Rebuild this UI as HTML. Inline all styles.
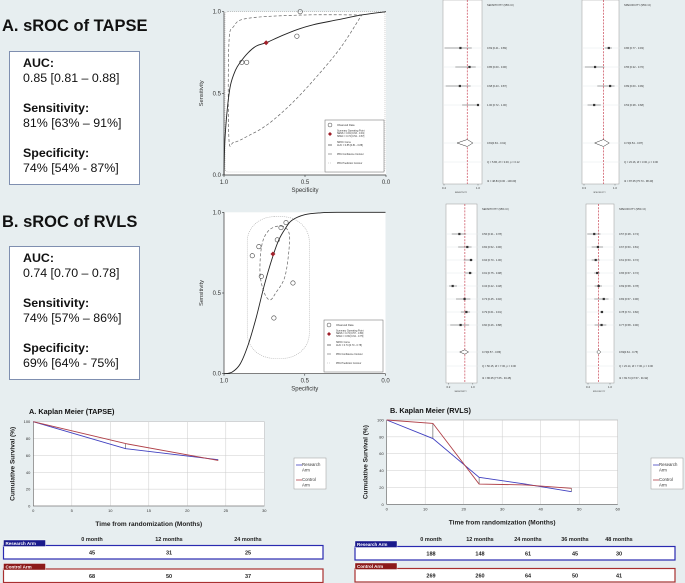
<!DOCTYPE html>
<html><head><meta charset="utf-8"><style>
html,body{margin:0;padding:0;background:#e7eef0;}
svg{display:block;font-family:"Liberation Sans",sans-serif;}
</style></head><body>
<svg id="fig" width="685" height="583" viewBox="0 0 685 583" xmlns="http://www.w3.org/2000/svg">
<rect x="0" y="0" width="685" height="583" fill="#e7eef0"/>
<text x="2" y="31" font-size="16.5" font-weight="bold" fill="#111">A. sROC of TAPSE</text>
<rect x="9.5" y="51.5" width="130" height="133" fill="#fff" stroke="#7f8fb0"/>
<g font-size="12.4" fill="#111">
<text x="23" y="67" font-weight="bold">AUC:</text><text x="23" y="82">0.85 [0.81 – 0.88]</text>
<text x="23" y="112" font-weight="bold">Sensitivity:</text><text x="23" y="127">81% [63% – 91%]</text>
<text x="23" y="157" font-weight="bold">Specificity:</text><text x="23" y="172">74% [54% - 87%]</text></g>
<text x="2" y="227" font-size="16.5" font-weight="bold" fill="#111">B. sROC of RVLS</text>
<rect x="9.5" y="246.5" width="130" height="133" fill="#fff" stroke="#7f8fb0"/>
<g font-size="12.4" fill="#111">
<text x="23" y="262" font-weight="bold">AUC:</text><text x="23" y="277">0.74 [0.70 – 0.78]</text>
<text x="23" y="307" font-weight="bold">Sensitivity:</text><text x="23" y="322">74% [57% – 86%]</text>
<text x="23" y="352" font-weight="bold">Specificity:</text><text x="23" y="367">69% [64% - 75%]</text></g>
<g id="dyn"></g>
</svg>
<script>
// ---------- sROC data ----------
const tapseObsSpec=[0.89,0.86,0.55,0.53];
const tapseObsSens=[0.69,0.69,0.85,1.00];
const tapseSummary=[0.74,0.81];
const tapseCurveSpec=[1,0.995,0.98,0.96,0.93,0.9,0.85,0.8,0.74,0.65,0.55,0.45,0.3,0.15,0];
const tapseCurveSens=[0,0.2,0.4,0.55,0.64,0.69,0.75,0.79,0.81,0.85,0.89,0.92,0.95,0.98,1];
const tapseConfSpec=[0.15,0.5,0.85,0.94,0.97,0.97,0.94,0.85,0.73,0.58,0.43,0.28,0.15];
const tapseConfSens=[0.98,0.98,0.96,0.91,0.8,0.23,0.2,0.24,0.31,0.44,0.6,0.78,0.98];
const rvlsObsSpec=[0.825,0.784,0.769,0.691,0.670,0.647,0.616,0.573];
const rvlsObsSens=[0.731,0.787,0.603,0.345,0.829,0.905,0.936,0.562];
const rvlsSummary=[0.697,0.742];
const rvlsCurveSpec=[1,0.95,0.9,0.85,0.8,0.75,0.7,0.66,0.62,0.58,0.5,0.4,0.3,0];
const rvlsCurveSens=[0,0.01,0.06,0.18,0.35,0.55,0.72,0.83,0.9,0.95,0.985,0.997,1,1];
const rvlsConfSpec=[0.647,0.6,0.596,0.623,0.68,0.715,0.75,0.777,0.765,0.72];
const rvlsConfSens=[0.915,0.88,0.787,0.601,0.5,0.457,0.5,0.622,0.8,0.89];
const rvlsPredSpec=[0.856,0.472];
const rvlsPredSens=[0.973,0.095];
// ---------- forest data ----------
const tapseSensEst=[0.69,0.85,0.68,1.00], tapseSensLo=[0.41,0.60,0.43,0.72], tapseSensHi=[0.89,0.96,0.87,1.00];
const tapseSensLabels=["0.69 [0.41 - 0.89]","0.85 [0.60 - 0.96]","0.68 [0.43 - 0.87]","1.00 [0.72 - 1.00]"];
const tapseSensPool=[0.81,0.63,0.91];
const tapseSpecEst=[0.86,0.55,0.89,0.53], tapseSpecLo=[0.77,0.32,0.60,0.38], tapseSpecHi=[0.93,0.76,0.99,0.68];
const tapseSpecLabels=["0.86 [0.77 - 0.93]","0.55 [0.32 - 0.76]","0.89 [0.60 - 0.99]","0.53 [0.38 - 0.68]"];
const tapseSpecPool=[0.74,0.54,0.87];
const rvlsSensEst=[0.56,0.82,0.94,0.91,0.34,0.73,0.79,0.60], rvlsSensLo=[0.31,0.52,0.70,0.75,0.22,0.45,0.61,0.26], rvlsSensHi=[0.78,0.96,1.00,0.98,0.48,0.92,0.91,0.88];
const rvlsSensLabels=["0.56 [0.31 - 0.78]","0.82 [0.52 - 0.96]","0.94 [0.70 - 1.00]","0.91 [0.75 - 0.98]","0.34 [0.22 - 0.48]","0.73 [0.45 - 0.92]","0.79 [0.61 - 0.91]","0.60 [0.26 - 0.88]"];
const rvlsSensPool=[0.74,0.57,0.86];
const rvlsSpecEst=[0.57,0.67,0.61,0.65,0.69,0.83,0.78,0.77], rvlsSpecLo=[0.38,0.50,0.50,0.57,0.58,0.57,0.73,0.58], rvlsSpecHi=[0.74,0.81,0.72,0.72,0.78,0.96,0.82,0.90];
const rvlsSpecLabels=["0.57 [0.38 - 0.74]","0.67 [0.50 - 0.81]","0.61 [0.50 - 0.72]","0.65 [0.57 - 0.72]","0.69 [0.58 - 0.78]","0.83 [0.57 - 0.96]","0.78 [0.73 - 0.82]","0.77 [0.58 - 0.90]"];
const rvlsSpecPool=[0.69,0.64,0.75];
// ---------- KM data ----------
const kmATimes=[0,12,24], kmAResearch=[100,68,55], kmAControl=[100,74,54];
const kmBTimes=[0,12,24,36,48], kmBResearch=[100,78,32,24,15], kmBControl=[100,96,24,23,19];
const kmATicksX=[0,5,10,15,20,25,30], kmBTicksX=[0,10,20,30,40,50,60], kmTicksY=[0,20,40,60,80,100];
const tableAHead=["0 month","12 months","24 months"], tableAResearch=["45","31","25"], tableAControl=["68","50","37"];
const tableBHead=["0 month","12 months","24 months","36 months","48 months"], tableBResearch=["188","148","61","45","30"], tableBControl=["269","260","64","50","41"];

const NS="http://www.w3.org/2000/svg";
const root=document.getElementById('dyn');
function mk(tag,attrs,parent,txt){const e=document.createElementNS(NS,tag);for(const k in attrs)e.setAttribute(k,attrs[k]);if(txt!==undefined)e.textContent=txt;(parent||root).appendChild(e);return e;}
function smooth(pts,closed){
  const n=pts.length;let d="M"+pts[0][0]+","+pts[0][1];
  const cnt=closed?n:n-1;
  for(let i=0;i<cnt;i++){const p0=pts[(i-1+n)%n],p1=pts[i],p2=pts[(i+1)%n],p3=pts[(i+2)%n];
    const a=closed||i>0?p0:p1, b=closed||i+2<n?p3:p2;
    d+=" C"+(p1[0]+(p2[0]-a[0])/6)+","+(p1[1]+(p2[1]-a[1])/6)+" "+(p2[0]-(b[0]-p1[0])/6)+","+(p2[1]-(b[1]-p1[1])/6)+" "+p2[0]+","+p2[1];}
  return d+(closed?" Z":"");}

function sroc(cfg){
  const g=mk('g',{});
  
  
  const X=s=>cfg.x0+(1-s)*(cfg.x1-cfg.x0), Y=v=>cfg.y0-v*(cfg.y0-cfg.y1);
  const bg=mk('rect',{x:cfg.x0,y:cfg.y1,width:cfg.x1-cfg.x0,height:cfg.y0-cfg.y1,fill:'#fff'},g);
  
  
  const ax=mk('path',{d:`M${cfg.x0},${cfg.y1} V${cfg.y0} H${cfg.x1}`,stroke:'#333','stroke-width':0.7,fill:'none'},g);
  
  
  [0,0.5,1].forEach(t=>{
    mk('line',{x1:cfg.x0-2,x2:cfg.x0,y1:Y(t),y2:Y(t),stroke:'#333','stroke-width':0.6},g);
    const yl=mk('text',{x:cfg.x0-3,y:Y(t)+2,'font-size':6,'text-anchor':'end',fill:'#333'},g,t.toFixed(1));
    
    
    mk('line',{x1:X(t),x2:X(t),y1:cfg.y0,y2:cfg.y0+2,stroke:'#333','stroke-width':0.6},g);
    const xl=mk('text',{x:X(t),y:cfg.y0+9,'font-size':6,'text-anchor':'middle',fill:'#333'},g,t.toFixed(1));
    
    
  });
  const yt=mk('text',{x:0,y:0,'font-size':5.8,'text-anchor':'middle',fill:'#333',transform:`translate(${cfg.x0-21},${(cfg.y0+cfg.y1)/2}) rotate(-90)`},g,'Sensitivity');
  
  
  const xt=mk('text',{x:(cfg.x0+cfg.x1)/2,y:cfg.y0+17,'font-size':6,'text-anchor':'middle',fill:'#333'},g,'Specificity');
  
  
  let pr;
  if(cfg.predRect){
    const xa=X(cfg.predSpec[0]),xb=X(cfg.predSpec[1]),ya=Y(cfg.predSens[0]),yb=Y(cfg.predSens[1]);
    pr=mk('rect',{x:xa,y:ya,width:xb-xa,height:yb-ya,rx:(xb-xa)/2.3,ry:(xb-xa)/2.5,fill:'none',stroke:'#aaa','stroke-width':0.6,'stroke-dasharray':'1,1'},g);
  } else {
    pr=mk('rect',{x:cfg.x0+1,y:cfg.y1,width:cfg.x1-cfg.x0-2,height:cfg.y0-cfg.y1-3,rx:3,fill:'none',stroke:'#aaa','stroke-width':0.6,'stroke-dasharray':'1,1'},g);
  }
  
  
  const cp=cfg.confSpec.map((s,i)=>[X(s),Y(cfg.confSens[i])]);
  const cc=mk('path',{d:smooth(cp,cfg.confClosed),fill:'none',stroke:'#666','stroke-width':0.7,'stroke-dasharray':'3,2'},g);
  
  
  const curve=cfg.curveSpec.map((s,i)=>[X(s),Y(cfg.curveSens[i])]);
  const cv=mk('path',{d:smooth(curve,false),fill:'none',stroke:'#222','stroke-width':0.9},g);
  
  
  cfg.obsSpec.forEach((s,i)=>{
    const c=mk('circle',{cx:X(s),cy:Y(cfg.obsSens[i]),r:2.2,fill:'none',stroke:'#444','stroke-width':0.6},g);
    
    
  });
  const sx=X(cfg.summary[0]),sy=Y(cfg.summary[1]);
  const sp=mk('path',{d:`M${sx},${sy-2.5} L${sx+2.5},${sy} L${sx},${sy+2.5} L${sx-2.5},${sy} Z`,fill:'#a0202a'},g);
  
  
  const lg=mk('g',{},g);
  
  
  const lx=cfg.lx,ly=cfg.ly;
  mk('rect',{x:lx,y:ly,width:59,height:52,fill:'#fff',stroke:'#666','stroke-width':0.5},lg);
  mk('circle',{cx:lx+5,cy:ly+5,r:2,fill:'none',stroke:'#444','stroke-width':0.5},lg);
  mk('text',{x:lx+12,y:ly+6,'font-size':2.6,fill:'#333'},lg,'Observed Data');
  mk('path',{d:`M${lx+5},${ly+12} l2,2 l-2,2 l-2,-2 z`,fill:'#a0202a'},lg);
  mk('text',{x:lx+12,y:ly+11.5,'font-size':2.4,fill:'#333'},lg,'Summary Operating Point');
  mk('text',{x:lx+12,y:ly+14.2,'font-size':2.4,fill:'#333'},lg,cfg.sensTxt);
  mk('text',{x:lx+12,y:ly+16.9,'font-size':2.4,fill:'#333'},lg,cfg.specTxt);
  mk('line',{x1:lx+3,x2:lx+7,y1:ly+25,y2:ly+25,stroke:'#222','stroke-width':0.6},lg);
  mk('text',{x:lx+12,y:ly+23,'font-size':2.4,fill:'#333'},lg,'SROC Curve');
  mk('text',{x:lx+12,y:ly+26,'font-size':2.4,fill:'#333'},lg,cfg.aucTxt);
  mk('line',{x1:lx+3,x2:lx+7,y1:ly+34,y2:ly+34,stroke:'#666','stroke-width':0.6},lg);
  mk('text',{x:lx+12,y:ly+35,'font-size':2.4,fill:'#333'},lg,'95% Confidence Contour');
  mk('line',{x1:lx+3,x2:lx+7,y1:ly+43,y2:ly+43,stroke:'#aaa','stroke-width':0.6,'stroke-dasharray':'1,1'},lg);
  mk('text',{x:lx+12,y:ly+44,'font-size':2.4,fill:'#333'},lg,'95% Prediction Contour');
}
sroc({name:'sroc-tapse-chart',x0:224,x1:386,y0:175,y1:11.7,obsSpec:tapseObsSpec,obsSens:tapseObsSens,summary:tapseSummary,curveSpec:tapseCurveSpec,curveSens:tapseCurveSens,confSpec:tapseConfSpec,confSens:tapseConfSens,confClosed:false,predRect:false,lx:325,ly:120,sensTxt:'SENS = 0.81 [0.63 - 0.91]',specTxt:'SPEC = 0.74 [0.54 - 0.87]',aucTxt:'AUC = 0.85 [0.81 - 0.88]'});
sroc({name:'sroc-rvls-chart',x0:224,x1:385.5,y0:373.7,y1:212.3,obsSpec:rvlsObsSpec,obsSens:rvlsObsSens,summary:rvlsSummary,curveSpec:rvlsCurveSpec,curveSens:rvlsCurveSens,confSpec:rvlsConfSpec,confSens:rvlsConfSens,confClosed:true,predRect:true,predSpec:rvlsPredSpec,predSens:rvlsPredSens,lx:324,ly:320,sensTxt:'SENS = 0.74 [0.57 - 0.86]',specTxt:'SPEC = 0.69 [0.64 - 0.75]',aucTxt:'AUC = 0.74 [0.70 - 0.78]'});

function forest(cfg){
  const g=mk('g',{});
  
  
  const X=v=>cfg.ax0+(v-cfg.t0)/(cfg.t1-cfg.t0)*(cfg.ax1-cfg.ax0);
  const box=mk('rect',{x:cfg.bx0,y:cfg.top,width:cfg.bx1-cfg.bx0,height:cfg.bottom-cfg.top,fill:'#fff',stroke:'#999','stroke-width':0.5},g);
  
  
  const rows=cfg.rowY.concat([cfg.poolY,cfg.qY]);
  rows.forEach(y=>mk('line',{x1:cfg.bx0,x2:cfg.bx1+3,y1:y,y2:y,stroke:'#e4e8ea','stroke-width':0.5},g));
  const ref=mk('line',{x1:X(cfg.pool[0]),x2:X(cfg.pool[0]),y1:cfg.top,y2:cfg.bottom,stroke:'#c0283a','stroke-width':0.6,'stroke-dasharray':'2,1.2'},g);
  
  
  mk('text',{x:cfg.bx1+5,y:cfg.top+6,'font-size':2.6,fill:'#333'},g,cfg.header);
  cfg.est.forEach((v,i)=>{
    const y=cfg.rowY[i];
    const ci=mk('line',{x1:X(cfg.lo[i]),x2:X(cfg.hi[i]),y1:y,y2:y,stroke:'#555','stroke-width':0.5},g);
    
    
    const sq=mk('rect',{x:X(v)-1.1,y:y-1.1,width:2.2,height:2.2,fill:'#333'},g);
    
    
    mk('text',{x:cfg.bx1+5,y:y+1,'font-size':2.6,fill:'#333'},g,cfg.labels[i]);
  });
  const py=cfg.poolY,pc=X(cfg.pool[0]);
  const dm=mk('path',{d:`M${X(cfg.pool[1])},${py} L${pc},${py-cfg.dh} L${X(cfg.pool[2])},${py} L${pc},${py+cfg.dh} Z`,fill:'#fff',stroke:'#333','stroke-width':0.5},g);
  
  
  mk('text',{x:cfg.bx1+5,y:py+1,'font-size':2.6,fill:'#333'},g,cfg.pool[0].toFixed(2)+"["+cfg.pool[1].toFixed(2)+" - "+cfg.pool[2].toFixed(2)+"]");
  mk('text',{x:cfg.bx1+5,y:cfg.qY+1,'font-size':2.6,fill:'#333'},g,cfg.qTxt);
  mk('text',{x:cfg.bx1+5,y:cfg.iY+1,'font-size':2.6,fill:'#333'},g,cfg.iTxt);
  [cfg.t0,cfg.t1].forEach(t=>{mk('line',{x1:X(t),x2:X(t),y1:cfg.bottom,y2:cfg.bottom+1.5,stroke:'#555','stroke-width':0.4},g);
    mk('text',{x:X(t),y:cfg.bottom+5,'font-size':2.8,'text-anchor':'middle',fill:'#333'},g,t.toFixed(1));});
  mk('text',{x:(cfg.ax0+cfg.ax1)/2,y:cfg.bottom+9,'font-size':2,'text-anchor':'middle',fill:'#333'},g,cfg.axisName);
}
const rA=[48,67,86,105], rB=[234,247,260,273,286,299,312,325];
forest({name:'forest-tapse-sensitivity',bx0:443,bx1:482,top:0,bottom:184,ax0:444,ax1:478,t0:0.4,t1:1.0,rowY:rA,est:tapseSensEst,lo:tapseSensLo,hi:tapseSensHi,labels:tapseSensLabels,pool:tapseSensPool,poolY:143,qY:162,iY:181,dh:3.5,header:'SENSITIVITY (95% CI)',qTxt:'Q = 5.86, df = 3.00, p = 0.12',iTxt:'I2 = 48.84 [0.00 - 100.00]',axisName:'SENSITIVITY'});
forest({name:'forest-tapse-specificity',bx0:582,bx1:619,top:0,bottom:184,ax0:584,ax1:615,t0:0.3,t1:1.0,rowY:rA,est:tapseSpecEst,lo:tapseSpecLo,hi:tapseSpecHi,labels:tapseSpecLabels,pool:tapseSpecPool,poolY:143,qY:162,iY:181,dh:3.5,header:'SPECIFICITY (95% CI)',qTxt:'Q = 23.16, df = 3.00, p = 0.00',iTxt:'I2 = 87.05 [75.73 - 98.40]',axisName:'SPECIFICITY'});
forest({name:'forest-rvls-sensitivity',bx0:446,bx1:477,top:204,bottom:383,ax0:448.4,ax1:472.8,t0:0.2,t1:1.0,rowY:rB,est:rvlsSensEst,lo:rvlsSensLo,hi:rvlsSensHi,labels:rvlsSensLabels,pool:rvlsSensPool,poolY:352,qY:366,iY:378,dh:2.2,header:'SENSITIVITY (95% CI)',qTxt:'Q = 50.15, df = 7.00, p = 0.00',iTxt:'I2 = 86.05 [77.65 - 94.45]',axisName:'SENSITIVITY'});
forest({name:'forest-rvls-specificity',bx0:586,bx1:614,top:204,bottom:383,ax0:588,ax1:610,t0:0.4,t1:1.0,rowY:rB,est:rvlsSpecEst,lo:rvlsSpecLo,hi:rvlsSpecHi,labels:rvlsSpecLabels,pool:rvlsSpecPool,poolY:352,qY:366,iY:378,dh:2.2,header:'SPECIFICITY (95% CI)',qTxt:'Q = 23.14, df = 7.00, p = 0.00',iTxt:'I2 = 69.74 [47.57 - 91.92]',axisName:'SPECIFICITY'});

function km(cfg){
  const g=mk('g',{});
  
  
  const X=t=>cfg.x0+t/cfg.tmax*(cfg.x1-cfg.x0), Y=v=>cfg.y0-v/100*(cfg.y0-cfg.y1);
  const tt=mk('text',{x:cfg.tx,y:cfg.ty,'font-size':7.3,'font-weight':'bold',fill:'#111'},g,cfg.title);
  
  
  mk('rect',{x:cfg.x0,y:cfg.y1,width:cfg.x1-cfg.x0,height:cfg.y0-cfg.y1,fill:'#fff',stroke:'#999','stroke-width':0.5},g);
  cfg.ticksX.forEach(t=>{
    mk('line',{x1:X(t),x2:X(t),y1:cfg.y1,y2:cfg.y0,stroke:'#ccc','stroke-width':0.5},g);
    const l=mk('text',{x:X(t),y:cfg.y0+6,'font-size':4,'text-anchor':'middle',fill:'#333'},g,String(t));
    
    
  });
  kmTicksY.forEach(t=>{
    mk('line',{x1:cfg.x0,x2:cfg.x1,y1:Y(t),y2:Y(t),stroke:'#ccc','stroke-width':0.5},g);
    const l=mk('text',{x:cfg.x0-3,y:Y(t)+1.5,'font-size':4,'text-anchor':'end',fill:'#333'},g,String(t));
    
    
  });
  mk('path',{d:`M${cfg.x0},${cfg.y1} V${cfg.y0} H${cfg.x1}`,stroke:'#666','stroke-width':0.6,fill:'none'},g);
  cfg.times.forEach((t,i)=>{if(i>0){mk('line',{x1:X(t),x2:X(t),y1:Y(cfg.research[i]),y2:Y(cfg.control[i]),stroke:'#333','stroke-width':0.5},g);}});
  const rp=mk('polyline',{points:cfg.times.map((t,i)=>X(t)+","+Y(cfg.research[i])).join(" "),fill:'none',stroke:'#4040c0','stroke-width':0.9},g);
  
  
  const cp=mk('polyline',{points:cfg.times.map((t,i)=>X(t)+","+Y(cfg.control[i])).join(" "),fill:'none',stroke:'#b04048','stroke-width':0.9},g);
  
  
  const xt=mk('text',{x:(cfg.x0+cfg.x1)/2,y:cfg.y0+20,'font-size':6.5,'font-weight':'bold','text-anchor':'middle',fill:'#222'},g,'Time from randomization (Months)');
  
  
  const yt=mk('text',{x:0,y:0,'font-size':6.5,'font-weight':'bold','text-anchor':'middle',fill:'#222',transform:`translate(${cfg.x0-19},${(cfg.y0+cfg.y1)/2}) rotate(-90)`},g,'Cumulative Survival (%)');
  
  
  const lg=mk('g',{},g);
  
  
  const lx=cfg.lx,ly=cfg.ly;
  mk('rect',{x:lx,y:ly,width:32,height:31,fill:'#fff',stroke:'#999','stroke-width':0.5},lg);
  mk('line',{x1:lx+2,x2:lx+8,y1:ly+7,y2:ly+7,stroke:'#4040c0','stroke-width':0.8},lg);
  mk('text',{x:lx+8,y:ly+8,'font-size':4.3,fill:'#333'},lg,'Research');
  mk('text',{x:lx+8,y:ly+13.5,'font-size':4.3,fill:'#333'},lg,'Arm');
  mk('line',{x1:lx+2,x2:lx+8,y1:ly+22,y2:ly+22,stroke:'#b04048','stroke-width':0.8},lg);
  mk('text',{x:lx+8,y:ly+23,'font-size':4.3,fill:'#333'},lg,'Control');
  mk('text',{x:lx+8,y:ly+28.5,'font-size':4.3,fill:'#333'},lg,'Arm');
  const tb=mk('g',{},g);
  
  
  cfg.head.forEach((h,i)=>mk('text',{x:cfg.colX[i],y:cfg.hy,'font-size':5.5,'font-weight':'bold','text-anchor':'middle',fill:'#222'},tb,h));
  [['Research Arm','#1a1a8c','#2a2ab0',cfg.res,cfg.ry],['Control Arm','#8c1a1a','#a83030',cfg.con,cfg.cy]].forEach(([lab,dark,edge,vals,y])=>{
    mk('rect',{x:cfg.bx0,y:y,width:cfg.bx1-cfg.bx0,height:13.5,fill:'#fff',stroke:edge,'stroke-width':1.2},tb);
    mk('rect',{x:cfg.bx0,y:y-5.5,width:42,height:6.5,fill:dark,stroke:'#fff','stroke-width':0.4},tb);
    mk('text',{x:cfg.bx0+2,y:y-0.5,'font-size':4.5,'font-weight':'bold',fill:'#fff'},tb,lab);
    vals.forEach((v,i)=>mk('text',{x:cfg.colX[i],y:y+9.2,'font-size':5.5,'font-weight':'bold','text-anchor':'middle',fill:'#222'},tb,v));
  });
}
km({name:'km-tapse-chart',title:'A. Kaplan Meier (TAPSE)',tx:29,ty:414,x0:33.3,x1:264.3,y0:506,y1:421.7,tmax:30,ticksX:kmATicksX,times:kmATimes,research:kmAResearch,control:kmAControl,lx:294,ly:458,head:tableAHead,res:tableAResearch,con:tableAControl,colX:[92,169,248],hy:541,bx0:3.5,bx1:323,ry:545.5,cy:569});
km({name:'km-rvls-chart',title:'B. Kaplan Meier (RVLS)',tx:390,ty:413,x0:386.7,x1:617.7,y0:504.3,y1:420,tmax:60,ticksX:kmBTicksX,times:kmBTimes,research:kmBResearch,control:kmBControl,lx:651,ly:458,head:tableBHead,res:tableBResearch,con:tableBControl,colX:[431,480,528,575,619],hy:541,bx0:355,bx1:675,ry:546.5,cy:568.5});
</script>
</body></html>
